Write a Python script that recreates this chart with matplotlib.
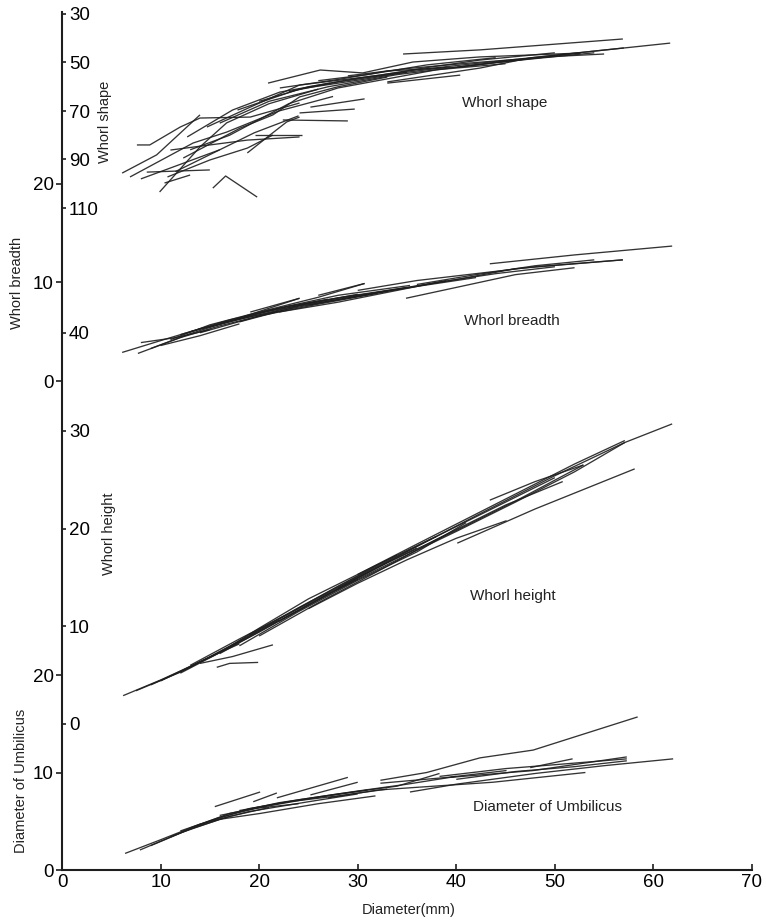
import matplotlib
matplotlib.use('Agg')
import matplotlib.pyplot as plt

plt.rcParams['font.family'] = ['Liberation Sans', 'DejaVu Sans']

# x axis: shell diameter (mm)
x_ticks = [0, 10, 20, 30, 40, 50, 60, 70]

# the four y scales stacked on one left spine
umb_ticks = [0, 10, 20]
height_ticks = [0, 10, 20, 30, 40]
breadth_ticks = [0, 10, 20]
shape_ticks = [30, 50, 70, 90, 110]

# growth trajectories (diameter, value), one list per specimen
shape_lines = [
    [(6.1, 95.6), (9.6, 88.1), (14.0, 71.6)],
    [(7.6, 84.0), (8.9, 84.0), (12.0, 76.6), (14.0, 72.9), (19.1, 72.5), (24.1, 66.7)],
    [(6.9, 97.2), (13.3, 83.2), (16.7, 78.7), (22.0, 70.0), (27.5, 64.0)],
    [(8.6, 95.2), (15.0, 94.3)],
    [(9.9, 103.4), (14.0, 84.8), (16.7, 74.9), (21.0, 67.0), (26.0, 61.0)],
    [(15.3, 101.8), (16.6, 96.8), (19.8, 105.5)],
    [(10.7, 97.2), (15.0, 90.2), (18.8, 85.3), (21.4, 79.9)],
    [(11.0, 86.1), (18.8, 82.0), (24.1, 80.7)],
    [(12.3, 89.4), (18.1, 77.0), (21.4, 71.6), (24.1, 64.2), (28.0, 60.0), (33.0, 56.0)],
    [(14.7, 76.6), (19.1, 68.4), (24.1, 59.3), (32.3, 55.2), (37.3, 51.9), (42.4, 49.0), (50.0, 46.0)],
    [(12.7, 80.7), (17.3, 69.6), (22.1, 62.2), (27.2, 58.5)],
    [(18.8, 87.3), (21.1, 79.9), (22.8, 74.5), (24.1, 72.5)],
    [(20.9, 58.5), (26.2, 53.1), (30.5, 54.3), (35.6, 49.8), (42.4, 47.7), (52.6, 46.1)],
    [(17.8, 69.6), (24.1, 60.9), (30.5, 57.0), (35.0, 54.0)],
    [(34.6, 46.5), (42.4, 44.8), (56.9, 40.3)],
    [(33.0, 58.0), (42.4, 52.3), (47.5, 48.1), (61.7, 42.0)],
    [(25.2, 68.4), (30.7, 65.0)],
    [(24.1, 70.8), (29.7, 69.2)],
    [(22.4, 73.7), (29.0, 74.1)],
    [(19.6, 80.0), (24.3, 80.0)],
    [(22.1, 60.5), (28.0, 57.0), (33.0, 53.5), (40.1, 51.9), (47.0, 48.5)],
    [(40.1, 51.9), (52.6, 46.1)],
    [(10.4, 99.7), (13.0, 96.4)],
    [(13.0, 86.0), (17.0, 80.0), (23.0, 67.0), (28.0, 60.5), (38.0, 53.0), (45.0, 50.5)],
    [(16.0, 75.0), (21.0, 66.0), (27.0, 60.0), (34.0, 55.0), (44.0, 50.0), (54.0, 46.0)],
    [(33.0, 58.5), (40.4, 55.2)],
    [(8.0, 98.0), (12.0, 92.0), (16.0, 86.0)],
    [(11.5, 95.0), (15.5, 87.0), (19.5, 79.0), (24.0, 72.0)],
    [(20.0, 66.0), (25.0, 60.0), (30.0, 56.5), (36.0, 53.0), (43.0, 50.0), (50.0, 47.0), (57.0, 44.0)],
    [(23.0, 62.0), (28.0, 58.0), (34.0, 54.5), (39.0, 52.0)],
    [(26.0, 57.5), (31.0, 55.0), (37.0, 51.0), (44.0, 48.0)],
    [(29.0, 55.5), (35.0, 52.5), (42.0, 50.0), (50.0, 47.5), (55.0, 46.5)],
]

breadth_lines = [
    [(6.1, 2.9), (10, 4.1), (14, 5.3), (19, 6.5), (25, 7.9), (30, 8.8)],
    [(7.7, 2.8), (12, 4.4), (16, 5.6), (22, 7.1)],
    [(8.0, 3.9), (11.5, 4.4), (15, 5.2)],
    [(9.0, 3.3), (13, 4.8), (18, 6.4), (24.1, 8.4)],
    [(11, 4.2), (15, 5.7), (20, 7.0), (26, 8.5), (30.7, 9.9)],
    [(13, 5.0), (17, 6.0), (22, 7.4), (28, 8.7), (35.3, 9.7)],
    [(14, 4.9), (20, 6.6), (26, 7.8), (32, 8.9)],
    [(18, 6.0), (24, 7.6), (30, 8.6), (36, 9.6), (42, 10.5)],
    [(20, 6.9), (28, 8.4), (34, 9.3), (40, 10.3), (46, 11.4), (56.9, 12.3)],
    [(25, 7.7), (32, 9.0), (38, 10.0), (44, 10.9), (50, 11.6)],
    [(43.4, 11.9), (52, 12.8), (61.9, 13.7)],
    [(34.9, 8.4), (40, 9.5), (46, 10.8), (52, 11.5)],
    [(30, 9.2), (36, 10.2), (42, 10.9), (48, 11.6), (56.9, 12.3)],
    [(10, 3.6), (14, 4.6), (18, 5.8)],
    [(15, 5.5), (21, 7.2), (27, 8.3)],
    [(22, 7.0), (28, 8.0), (34, 9.2), (39, 10.2)],
    [(19.1, 7.0), (24.1, 8.4)],
    [(26, 8.7), (30.7, 9.9)],
    [(12, 4.7), (17, 6.2), (23, 7.6), (29, 8.6), (35, 9.5)],
    [(16, 5.9), (21, 6.9), (27, 8.1), (33, 9.1)],
    [(36, 9.8), (42, 10.8), (48, 11.7), (54, 12.3)],
]

height_lines = [
    [(6.2, 2.9), (10, 4.5), (15, 6.8), (20, 9.4), (25, 12.2), (30, 14.8)],
    [(7.5, 3.4), (12, 5.3), (17, 7.9), (22, 10.6)],
    [(9, 4.0), (13, 5.8), (18, 8.5), (24, 11.8), (30, 15.0), (36, 18.0)],
    [(15.7, 5.8), (17, 6.2), (19.9, 6.3)],
    [(14, 6.2), (17.3, 6.9), (21.4, 8.1)],
    [(12, 5.2), (16, 7.3), (20, 9.8), (25, 12.8), (32, 16.3), (38, 19.2)],
    [(16, 7.2), (21, 10.0), (27, 13.3), (33, 16.5), (40, 19.8), (46, 22.8), (52.9, 26.5)],
    [(18, 8.0), (24, 11.5), (30, 14.7), (36, 17.6), (41, 20.6)],
    [(43.4, 22.9), (48, 24.8), (52.9, 26.5)],
    [(20, 9.0), (26, 12.4), (32, 15.6), (38, 18.9), (45, 22.4), (50.8, 24.8)],
    [(22, 10.5), (28, 13.8), (34, 16.8), (40, 19.7), (46, 22.7), (52, 25.8), (57.1, 28.8), (61.9, 30.7)],
    [(40.1, 18.5), (48, 22.0), (58.1, 26.1)],
    [(25, 11.8), (30, 14.4), (35, 16.8), (40, 19.0), (45.1, 20.8)],
    [(28, 13.9), (34, 17.1), (42, 21.3), (50, 25.4), (57.1, 28.8)],
    [(10, 4.4), (14, 6.4), (18, 8.2)],
    [(30, 15.3), (36, 18.4), (44, 22.5), (52, 26.6), (57.1, 29.0)],
    [(13, 6.0), (18, 8.7), (23, 11.3), (28, 14.1), (34, 17.3)],
    [(19, 9.1), (24, 11.9), (30, 15.1), (37, 18.7), (44, 22.2), (50, 25.2)],
]

umb_lines = [
    [(6.4, 1.7), (10, 3.1), (14, 4.7), (19, 6.0), (25, 7.0), (30, 7.8)],
    [(7.9, 2.05), (12, 3.8), (16, 5.2), (20.1, 5.8), (26, 6.8), (31.8, 7.6)],
    [(9, 2.5), (13, 4.2), (17, 5.5), (21, 6.4)],
    [(15.5, 6.5), (20.1, 8.0)],
    [(19.4, 7.0), (21.8, 7.9)],
    [(21.8, 7.4), (29.0, 9.5)],
    [(25.2, 7.7), (30.0, 9.0)],
    [(11, 3.4), (15, 5.0), (19, 6.3), (24, 7.2), (30, 8.1), (35, 8.8), (40, 9.6)],
    [(13, 4.3), (17, 5.8), (22, 6.9), (28, 7.8), (34, 8.6), (38.3, 9.9)],
    [(32.3, 9.2), (37, 10.0), (42.4, 11.5), (47.8, 12.3), (58.4, 15.7)],
    [(35.3, 8.0), (40, 8.8), (48, 9.9), (55, 10.7), (62.0, 11.4)],
    [(32.3, 8.9), (39.1, 9.5), (45.1, 10.2)],
    [(39.4, 9.5), (47.8, 10.2), (57.3, 11.6)],
    [(36.3, 8.5), (43.7, 9.0), (53.1, 10.0)],
    [(47.5, 10.5), (51.8, 11.4)],
    [(38.3, 9.6), (45, 10.4), (50, 10.8), (57.3, 11.4)],
    [(27, 7.4), (32, 8.2), (36.3, 8.5)],
    [(16, 5.6), (19.5, 6.3), (24, 6.8)],
    [(12, 4.0), (16, 5.4), (20, 6.4), (25, 7.3), (31, 8.2)],
    [(18, 6.1), (23, 7.0), (28, 7.6), (33, 8.3)],
    [(40, 9.3), (46, 10.1), (52, 10.6), (57.3, 11.2)],
]

# layout in pixels of the 766x921 page
W, H = 766, 921
left_px, right_px, bottom_px, top_px = 62, 752, 870, 12
rect = [left_px / W, 1 - bottom_px / H, (right_px - left_px) / W, (bottom_px - top_px) / H]

# where two tick values of each scale sit on the page (value, pixel row)
anchors = {
    'umb': (0, 870, 20, 675),
    'height': (0, 724, 40, 333),
    'breadth': (0, 381, 20, 184),
    'shape': (30, 14, 110, 208),
}


def ylim_of(key):
    v1, p1, v2, p2 = anchors[key]
    k = (v2 - v1) / (p2 - p1)
    return v1 + (bottom_px - p1) * k, v1 + (top_px - p1) * k


ink = '#1e1e1e'
fig = plt.figure(figsize=(W / 100, H / 100), dpi=100)

ax_u = fig.add_axes(rect)
ax_h = fig.add_axes(rect, sharex=ax_u, facecolor='none')
ax_b = fig.add_axes(rect, sharex=ax_u, facecolor='none')
ax_s = fig.add_axes(rect, sharex=ax_u, facecolor='none')

ax_u.set_xlim(0, 70)
ax_u.set_xticks(x_ticks)
ax_u.set_xticklabels([str(t) for t in x_ticks], fontsize=13.5)
ax_u.tick_params(axis='x', direction='in', length=4, width=1.2, pad=3, color=ink)
for s in ['top', 'right']:
    ax_u.spines[s].set_visible(False)
for s in ['left', 'bottom']:
    ax_u.spines[s].set_linewidth(1.5)
    ax_u.spines[s].set_color(ink)

for ax in [ax_h, ax_b, ax_s]:
    for s in ax.spines.values():
        s.set_visible(False)
    ax.xaxis.set_visible(False)

panels = [
    (ax_u, 'umb', umb_lines, umb_ticks, 'out', 'Diameter of Umbilicus', 49.3, 6.5),
    (ax_h, 'height', height_lines, height_ticks, 'in', 'Whorl height', 45.7, 13.1),
    (ax_b, 'breadth', breadth_lines, breadth_ticks, 'out', 'Whorl breadth', 45.6, 6.1),
    (ax_s, 'shape', shape_lines, shape_ticks, 'in', 'Whorl shape', 44.9, 66.7),
]

for ax, key, lines, ticks, side, name, tx, ty in panels:
    ax.set_ylim(*ylim_of(key))
    for ln in lines:
        xs = [p[0] for p in ln]
        ys = [p[1] for p in ln]
        ax.plot(xs, ys, color=ink, lw=0.95, alpha=0.9, solid_capstyle='butt')
    ax.set_yticks(ticks)
    ax.set_yticklabels([str(t) for t in ticks], fontsize=13.5)
    if side == 'out':
        ax.tick_params(axis='y', direction='out', length=4, width=1.2, pad=2, color=ink)
    else:
        # labels sit to the right of the spine
        ax.tick_params(axis='y', direction='in', length=3, width=1.2, pad=-5, color=ink)
        for lab in ax.get_yticklabels():
            lab.set_horizontalalignment('left')
    ax.text(tx, ty, name, fontsize=11, ha='center', va='center', color='#222222')

# axis titles placed as on the page
fig.text(105 / W, 1 - 122 / H, 'Whorl shape', rotation=90, fontsize=10.5, ha='center', va='center', color='#222222')
fig.text(17 / W, 1 - 283 / H, 'Whorl breadth', rotation=90, fontsize=10.5, ha='center', va='center', color='#222222')
fig.text(109 / W, 1 - 534 / H, 'Whorl height', rotation=90, fontsize=10.5, ha='center', va='center', color='#222222')
fig.text(21 / W, 1 - 781 / H, 'Diameter of Umbilicus', rotation=90, fontsize=10.5, ha='center', va='center', color='#222222')
fig.text(409 / W, 1 - 910 / H, 'Diameter(mm)', fontsize=10.5, ha='center', va='center', color='#222222')

fig.savefig('out.png', dpi=100)
